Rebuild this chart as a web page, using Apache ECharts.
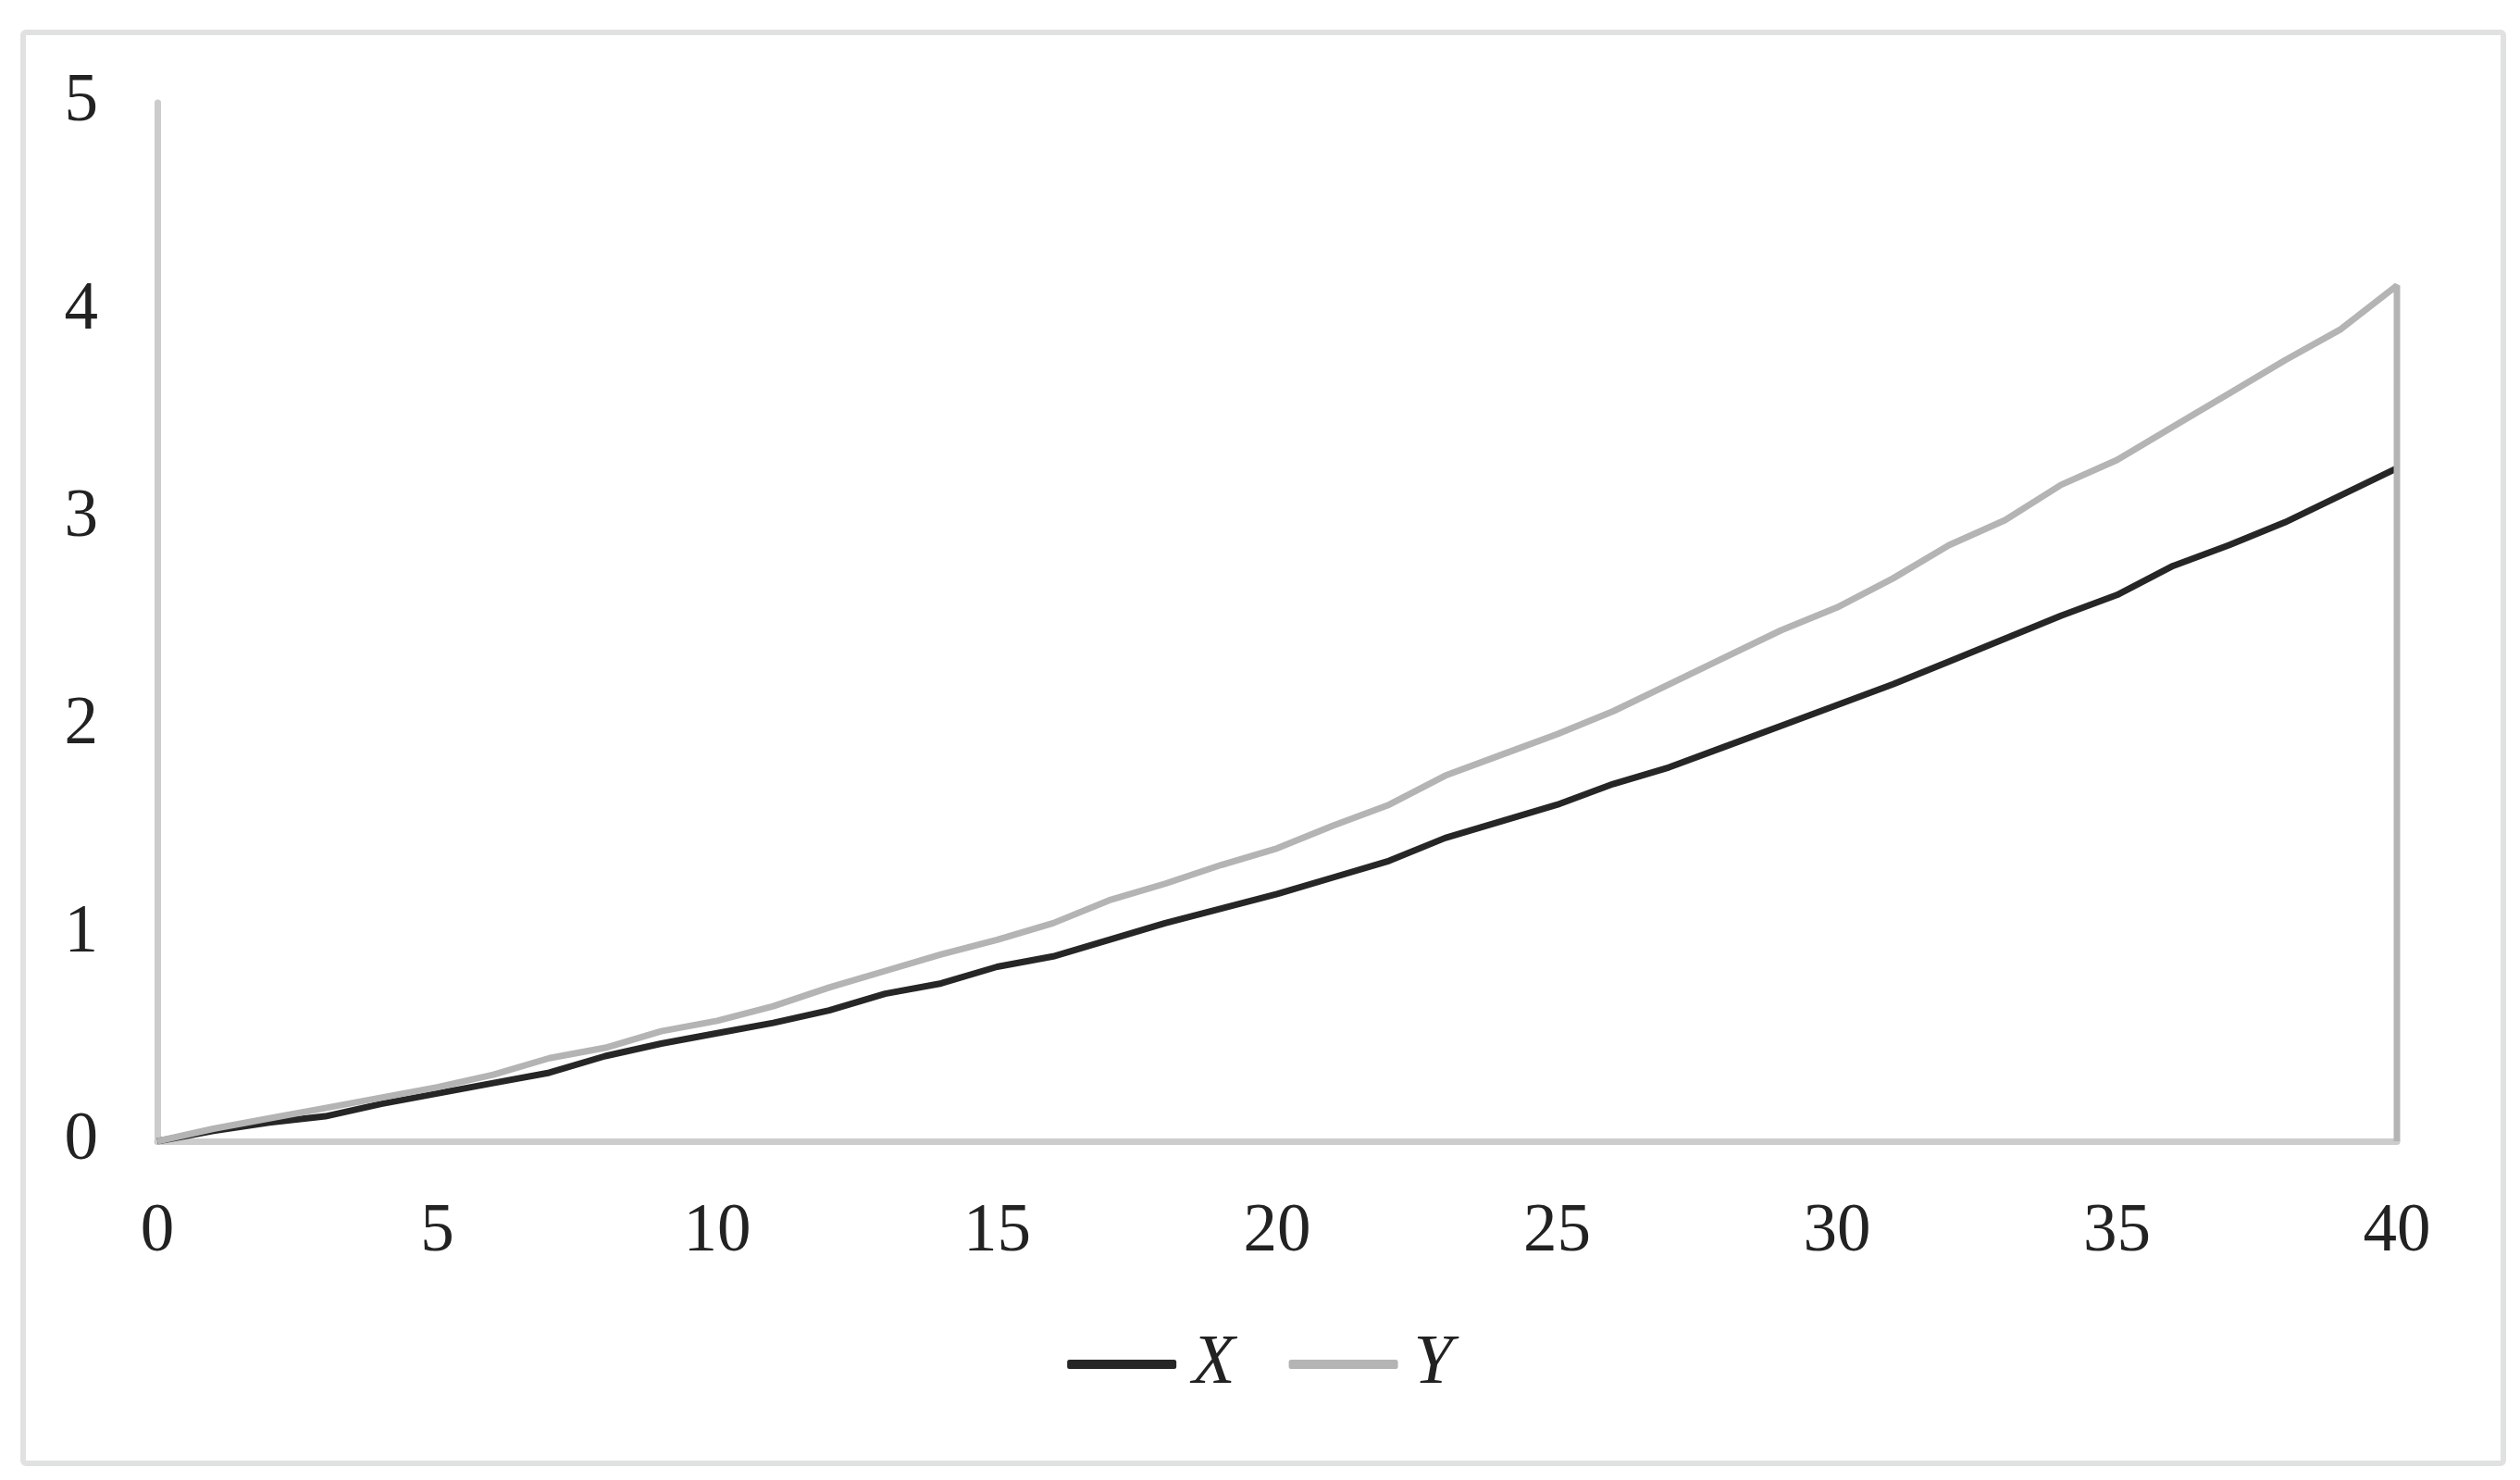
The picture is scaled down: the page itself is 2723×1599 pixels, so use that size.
<!DOCTYPE html>
<html>
<head>
<meta charset="utf-8">
<script src="https://cdn.jsdelivr.net/npm/echarts@6/dist/echarts.min.js"></script>
<style>
  html, body { margin: 0; padding: 0; background: #fff; }
  #chart { width: 2723px; height: 1599px; }
</style>
</head>
<body>
<div id="chart"></div>
<script>
// x positions 0..40
var steps = [0, 1, 2, 3, 4, 5, 6, 7, 8, 9, 10, 11, 12, 13, 14, 15, 16, 17, 18, 19, 20,
  21, 22, 23, 24, 25, 26, 27, 28, 29, 30, 31, 32, 33, 34, 35, 36, 37, 38, 39, 40];

var valuesX = [0, 0.05, 0.09, 0.12, 0.18, 0.23, 0.28, 0.33, 0.41, 0.47, 0.52,
  0.57, 0.63, 0.71, 0.76, 0.84, 0.89, 0.97, 1.05, 1.12, 1.19,
  1.27, 1.35, 1.46, 1.54, 1.62, 1.72, 1.80, 1.90, 2.00, 2.10,
  2.20, 2.31, 2.42, 2.53, 2.63, 2.77, 2.87, 2.98, 3.11, 3.24];

var valuesY = [0, 0.06, 0.11, 0.16, 0.21, 0.26, 0.32, 0.40, 0.45, 0.53, 0.58,
  0.65, 0.74, 0.82, 0.90, 0.97, 1.05, 1.16, 1.24, 1.33, 1.41,
  1.52, 1.62, 1.76, 1.86, 1.96, 2.07, 2.20, 2.33, 2.46, 2.57,
  2.71, 2.87, 2.99, 3.16, 3.28, 3.44, 3.60, 3.76, 3.91, 4.12];

// the Y curve drops back to the axis at the last step
var closeY = [40, 0];

var seriesNames = ['X', 'Y'];
var xTicks = [0, 5, 10, 15, 20, 25, 30, 35, 40];
var yTicks = [0, 1, 2, 3, 4, 5];

var font = 'Liberation Serif';
var ink = '#222222';

function pairs(xs, ys) {
  var out = [];
  for (var i = 0; i < xs.length; i++) out.push([xs[i], ys[i]]);
  return out;
}

var dataX = pairs(steps, valuesX);
var dataY = pairs(steps, valuesY);
dataY.push(closeY);

var chart = echarts.init(document.getElementById('chart'));
chart.setOption({
  backgroundColor: '#fff',
  animation: false,
  graphic: [{
    type: 'rect',
    shape: { x: 25, y: 35, width: 2680, height: 1546, r: 3 },
    style: { fill: 'none', stroke: '#e0e2e1', lineWidth: 6 },
    silent: true
  }],
  grid: { left: 170, right: 133, top: 111, bottom: 366, containLabel: false },
  legend: {
    data: seriesNames,
    bottom: 82,
    left: 'center',
    icon: 'roundRect',
    itemWidth: 118,
    itemHeight: 10,
    itemGap: 58,
    textStyle: { fontFamily: font, fontStyle: 'italic', fontSize: 76, color: ink, padding: [0, 0, 0, 12] }
  },
  xAxis: {
    type: 'value',
    min: 0,
    max: 40,
    interval: 5,
    axisLine: { lineStyle: { color: '#cccccc', width: 7 } },
    axisTick: { show: false },
    splitLine: { show: false },
    axisLabel: {
      margin: 62,
      fontFamily: font, fontSize: 73, color: ink,
      formatter: function (v) { return xTicks.indexOf(v) >= 0 ? String(v) : ''; }
    }
  },
  yAxis: {
    type: 'value',
    min: 0,
    max: 5,
    interval: 1,
    axisLine: { show: true, lineStyle: { color: '#cccccc', width: 7 } },
    axisTick: { show: false },
    splitLine: { show: false },
    axisLabel: {
      margin: 64,
      fontFamily: font, fontSize: 73, color: ink,
      formatter: function (v) { return yTicks.indexOf(v) >= 0 ? String(v) : ''; }
    }
  },
  series: [
    {
      name: 'X',
      type: 'line',
      data: dataX,
      symbol: 'none',
      color: '#262626',
      lineStyle: { color: '#262626', width: 7 }
    },
    {
      name: 'Y',
      type: 'line',
      data: dataY,
      symbol: 'none',
      color: '#b4b4b4',
      lineStyle: { color: '#b4b4b4', width: 7 }
    }
  ]
});
</script>
</body>
</html>
